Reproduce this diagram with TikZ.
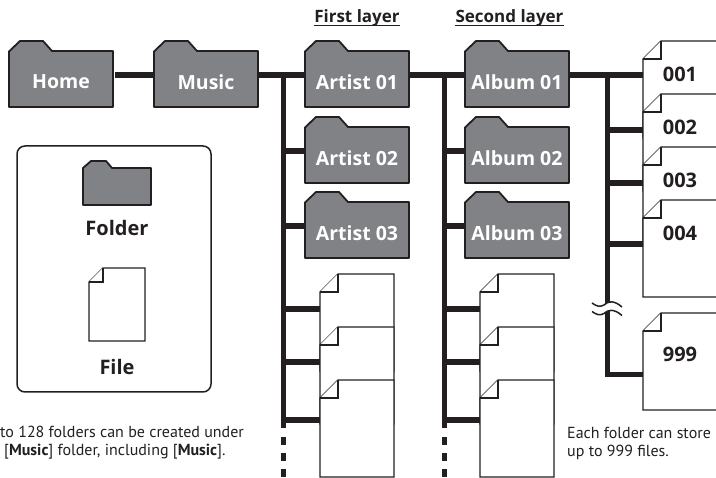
\documentclass[tikz,border=0pt]{standalone}
\usepackage{fontspec}
\setmainfont{PT Sans}
\newfontfamily\labelfont{Open Sans}
\definecolor{ink}{HTML}{231F20}
\definecolor{fgrey}{HTML}{808285}
\tikzset{
  x=1pt,y=-1pt,
  foldershape/.style={draw=ink,fill=fgrey,line width=1.8pt,line join=round},
  fileshape/.style={draw=ink,fill=white,line width=1.1pt,line join=miter},
  anchorbox/.style={inner sep=0pt,outer sep=0pt,minimum width=104pt,minimum height=64pt},
  filebox/.style={inner sep=0pt,outer sep=0pt,minimum width=74pt,minimum height=97pt},
  foldertext/.style={text=white,font=\labelfont\fontsize{19.5}{23}\selectfont\bfseries,inner sep=0pt},
  filetext/.style={text=ink,font=\labelfont\fontsize{20}{23}\selectfont\bfseries,inner sep=0pt},
  headtext/.style={text=ink,font=\labelfont\fontsize{17}{20}\selectfont\bfseries,inner sep=0pt},
  notetext/.style={text=ink,font=\fontsize{16}{18}\selectfont,inner sep=0pt,align=left},
  link/.style={draw=ink,line width=5.5pt},
  rail/.style={draw=ink,line width=5pt},
  railstub/.style={draw=ink,line width=5.5pt},
  waveline/.style={draw=ink,line width=1.5pt},
}
% #1 name, #2 left x, #3 top y, #4 text
\newcommand{\myfolder}[4]{%
  \draw[foldershape] (#2,#3+10.5) -- (#2+11,#3) -- (#2+34,#3) -- (#2+43,#3+10) -- (#2+104,#3+10)
     -- (#2+104,#3+66) -- (#2,#3+66) -- cycle;
  \node[anchorbox] (#1) at (#2+52,#3+34) {};
  \node[foldertext] (#1-text) at (#2+52,#3+41) {#4};
}
% #1 name, #2 left x, #3 top y, #4 connector y offset
\newcommand{\myfile}[4]{%
  \fill[white] (#2,#3+18) -- (#2+18,#3) -- (#2+74,#3) -- (#2+74,#3+97) -- (#2,#3+97) -- cycle;
  \draw[fileshape] (#2,#3+18) -- (#2+18,#3) -- (#2+74,#3) -- (#2+74,#3+97) -- (#2,#3+97) -- cycle;
  \draw[fileshape] (#2,#3+18) -- (#2+18,#3+18) -- (#2+18,#3);
  \node[filebox] (#1) at (#2+37,#3+48.5) {};
  \coordinate (#1-port) at (#2,#3+#4);
}
\begin{document}
\begin{tikzpicture}
\useasboundingbox (0,0) rectangle (716,478);
% headings
\node[headtext,anchor=base] (h1) at (357,22.5) {First layer};
\node[headtext,anchor=base] (h2) at (509.5,22.5) {Second layer};
\draw[draw=ink,line width=0.9pt] ([yshift=-2.5pt]h1.base west) -- ([yshift=-2.5pt]h1.base east);
\draw[draw=ink,line width=0.9pt] ([yshift=-2.5pt]h2.base west) -- ([yshift=-2.5pt]h2.base east);
% folders
\myfolder{home}{9}{41}{Home}
\myfolder{music}{154}{41}{Music}
\myfolder{artistA}{305}{41}{Artist 01}
\myfolder{artistB}{305}{117}{Artist 02}
\myfolder{artistC}{305}{192}{Artist 03}
\myfolder{albumA}{465}{41}{Album 01}
\myfolder{albumB}{465}{117}{Album 02}
\myfolder{albumC}{465}{192}{Album 03}
% files
\myfile{fa}{320}{274}{35}
\myfile{fb}{320}{327}{35}
\myfile{fc}{320}{380}{40}
\myfile{ga}{480}{274}{35}
\myfile{gb}{480}{327}{35}
\myfile{gc}{480}{380}{40}
\myfile{ha}{643}{41}{34}
\myfile{hb}{643}{94}{36}
\myfile{hc}{643}{147}{36}
\myfile{hd}{643}{200}{44}
\myfile{he}{643}{313}{62}
% file labels
\node[filetext] (t1) at (680,74) {001};
\node[filetext] (t2) at (680,127) {002};
\node[filetext] (t3) at (680,180) {003};
\node[filetext] (t4) at (680,233) {004};
\node[filetext] (t5) at (680,354) {999};
% connectors
\draw[link] ([xshift=2pt]home.east) -- (music.west);
\draw[link] (music.east) -- (artistA.west);
\draw[link] (artistA.east) -- (albumA.west);
\draw[link] (albumA.east) -- (ha-port);
\coordinate (r1) at (283,75);
\coordinate (r1end) at (283,428);
\coordinate (r2) at (444,75);
\coordinate (r2end) at (444,428);
\coordinate (r3) at (607,75);
\draw[rail] (r1) -- (r1end);
\draw[rail] (r2) -- (r2end);
\draw[rail,dash pattern=on 8pt off 8pt] (283,437) -- (283,478);
\draw[rail,dash pattern=on 8pt off 8pt] (444,437) -- (444,478);
\foreach \a/\b in {r1/artistB,r1/artistC,r2/albumB,r2/albumC}{
  \draw[railstub] (\a |- \b.west) -- (\b.west);
}
\foreach \a/\b in {r1/fa,r1/fb,r1/fc,r2/ga,r2/gb,r2/gc,r3/hb,r3/hc,r3/hd}{
  \draw[railstub] (\a |- \b-port) -- (\b-port);
}
\draw[draw=ink,line width=5pt,line join=miter] (r3) |- (he-port);
% break in the right rail
\fill[white] (592,303) .. controls (596,306) and (600,307.5) .. (604,305) .. controls (608,301) and (614,300) .. (622,307)
  -- (622,315.5) .. controls (614,308.5) and (608,309.5) .. (604,313.5) .. controls (600,316) and (596,314.5) .. (592,311.5) -- cycle;
\draw[waveline] (592,303) .. controls (596,306) and (600,307.5) .. (604,305) .. controls (608,301) and (614,300) .. (622,307);
\draw[waveline] (592,311.5) .. controls (596,314.5) and (600,316) .. (604,313.5) .. controls (608,309.5) and (614,308.5) .. (622,315.5);
% legend
\node[draw=ink,line width=1.5pt,rounded corners=8pt,inner sep=0pt,minimum width=194pt,minimum height=246pt] (legend) at (114,269) {};
\draw[foldershape] (83,168) -- (91,161) -- (106,161) -- (112,168) -- (151,168) -- (151,205) -- (83,205) -- cycle;
\node[filetext] (lfolder) at (117,228) {Folder};
\fill[white] (89,282) -- (103,268) -- (145,268) -- (145,341) -- (89,341) -- cycle;
\draw[fileshape] (89,282) -- (103,268) -- (145,268) -- (145,341) -- (89,341) -- cycle;
\draw[fileshape] (89,282) -- (103,282) -- (103,268);
\node[filetext] (lfile) at (117,367) {File};
% notes
\node[notetext,anchor=base west] (n1) at (0,437.5) {to 128 folders can be created under};
\node[notetext,anchor=base west] (n2) at (4,456) {[\textbf{Music}] folder, including [\textbf{Music}].};
\node[notetext,anchor=base west] (n3) at (567,439) {Each folder can store};
\node[notetext,anchor=base west] (n4) at (567,457) {up to 999 files.};
\end{tikzpicture}
\end{document}
